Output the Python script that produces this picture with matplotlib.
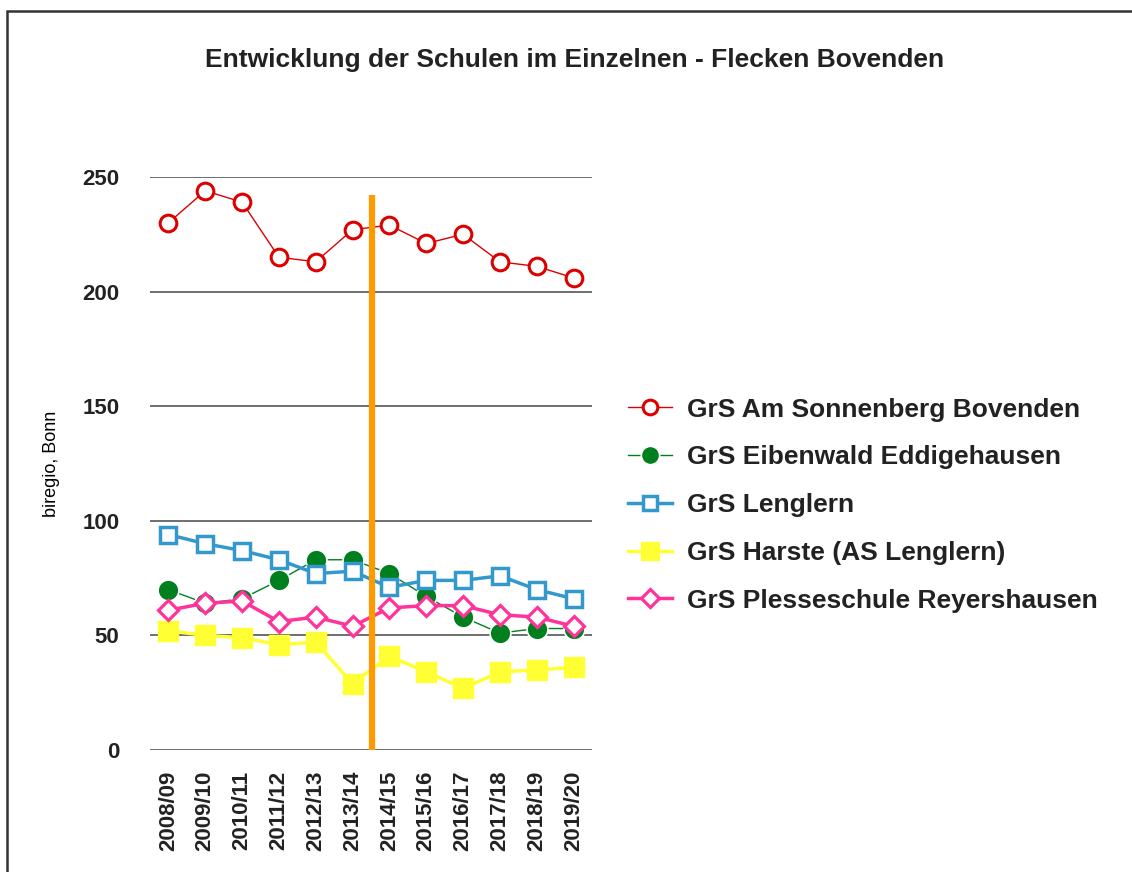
import matplotlib
matplotlib.use("Agg")
import matplotlib.pyplot as plt
from matplotlib.patches import Rectangle

# school years on the x axis
years = ["2008/09", "2009/10", "2010/11", "2011/12", "2012/13", "2013/14",
         "2014/15", "2015/16", "2016/17", "2017/18", "2018/19", "2019/20"]

# pupil numbers per school
sonnenberg = [230, 244, 239, 215, 213, 227, 229, 221, 225, 213, 211, 206]
eibenwald = [70, 64, 66, 74, 83, 83, 77, 67, 58, 51, 53, 53]
lenglern = [94, 90, 87, 83, 77, 78, 71, 74, 74, 76, 70, 66]
harste = [52, 50, 49, 46, 47, 29, 41, 34, 27, 34, 35, 36]
plesse = [61, 64, 65, 56, 58, 54, 62, 63, 63, 59, 58, 54]

names = ["GrS Am Sonnenberg Bovenden", "GrS Eibenwald Eddigehausen", "GrS Lenglern",
         "GrS Harste (AS Lenglern)", "GrS Plesseschule Reyershausen"]

# orange marker line between 2013/14 and 2014/15
split_pos = 5.54
split_top = 242

plt.rcParams['font.family'] = ['Liberation Sans', 'DejaVu Sans']

fig = plt.figure(figsize=(11.32, 8.72), dpi=100)
ax = fig.add_axes([150 / 1132, 1 - 750 / 872, 442 / 1132, 573 / 872])

x = range(len(years))
ax.plot(x, sonnenberg, color="#DD0000", lw=1, marker="o", ms=12, mfc="white",
        mec="#DD0000", mew=2.2, clip_on=False, label=names[0])
ax.plot(x, eibenwald, color="#007F1F", lw=1, marker="o", ms=15, mfc="#007F1F",
        mec="white", mew=1.2, clip_on=False, label=names[1])
ax.plot(x, lenglern, color="#3399CC", lw=2.5, marker="s", ms=12, mfc="white",
        mec="#3399CC", mew=2.5, clip_on=False, label=names[2])
ax.plot(x, harste, color="#FFFF33", lw=2.5, marker="s", ms=14, mfc="#FFFF33",
        mec="#FFFF33", mew=1, clip_on=False, label=names[3])
ax.plot(x, plesse, color="#FF3399", lw=2.5, marker="D", ms=10.5, mfc="white",
        mec="#FF3399", mew=2.3, clip_on=False, label=names[4])

ax.plot([split_pos, split_pos], [0, split_top], color="#FF9900", lw=4.5,
        solid_capstyle="butt", clip_on=False, zorder=5)

ax.set_xlim(-0.5, 11.5)
ax.set_ylim(0, 250)
ax.set_yticks([0, 50, 100, 150, 200, 250])
ax.set_xticks(list(x))
ax.set_xticklabels(years, rotation=90, fontsize=16, fontweight="bold", color="#222222")
for lab in ax.get_yticklabels():
    lab.set_fontsize(16)
    lab.set_fontweight("bold")
    lab.set_color("#222222")
ax.tick_params(axis="x", length=0, pad=15)
ax.tick_params(axis="y", length=0, pad=22)
ax.yaxis.grid(True, color="#555555", lw=1.2)
ax.set_axisbelow(True)
for s in ax.spines.values():
    s.set_visible(False)

ax.set_ylabel("biregio, Bonn", fontsize=13, labelpad=16)

fig.text(575 / 1132, 1 - 60 / 872, "Entwicklung der Schulen im Einzelnen - Flecken Bovenden",
         ha="center", va="center", fontsize=19, fontweight="bold", color="#222222")

leg = fig.legend(loc="center left", bbox_to_anchor=(628 / 1132, 1 - 505 / 872),
                 frameon=False, borderpad=0, borderaxespad=0, handlelength=1.65,
                 handletextpad=0.6, labelspacing=0.9, markerscale=0.88,
                 prop={"size": 19, "weight": "bold"})
for t in leg.get_texts():
    t.set_color("#222222")

# outer frame
fig.patches.append(Rectangle((7 / 1132, -0.1), 1.2, 1 - 11 / 872 + 0.1,
                             transform=fig.transFigure, fill=False,
                             edgecolor="#333333", lw=1.8))

fig.savefig("out.png", dpi=100)
